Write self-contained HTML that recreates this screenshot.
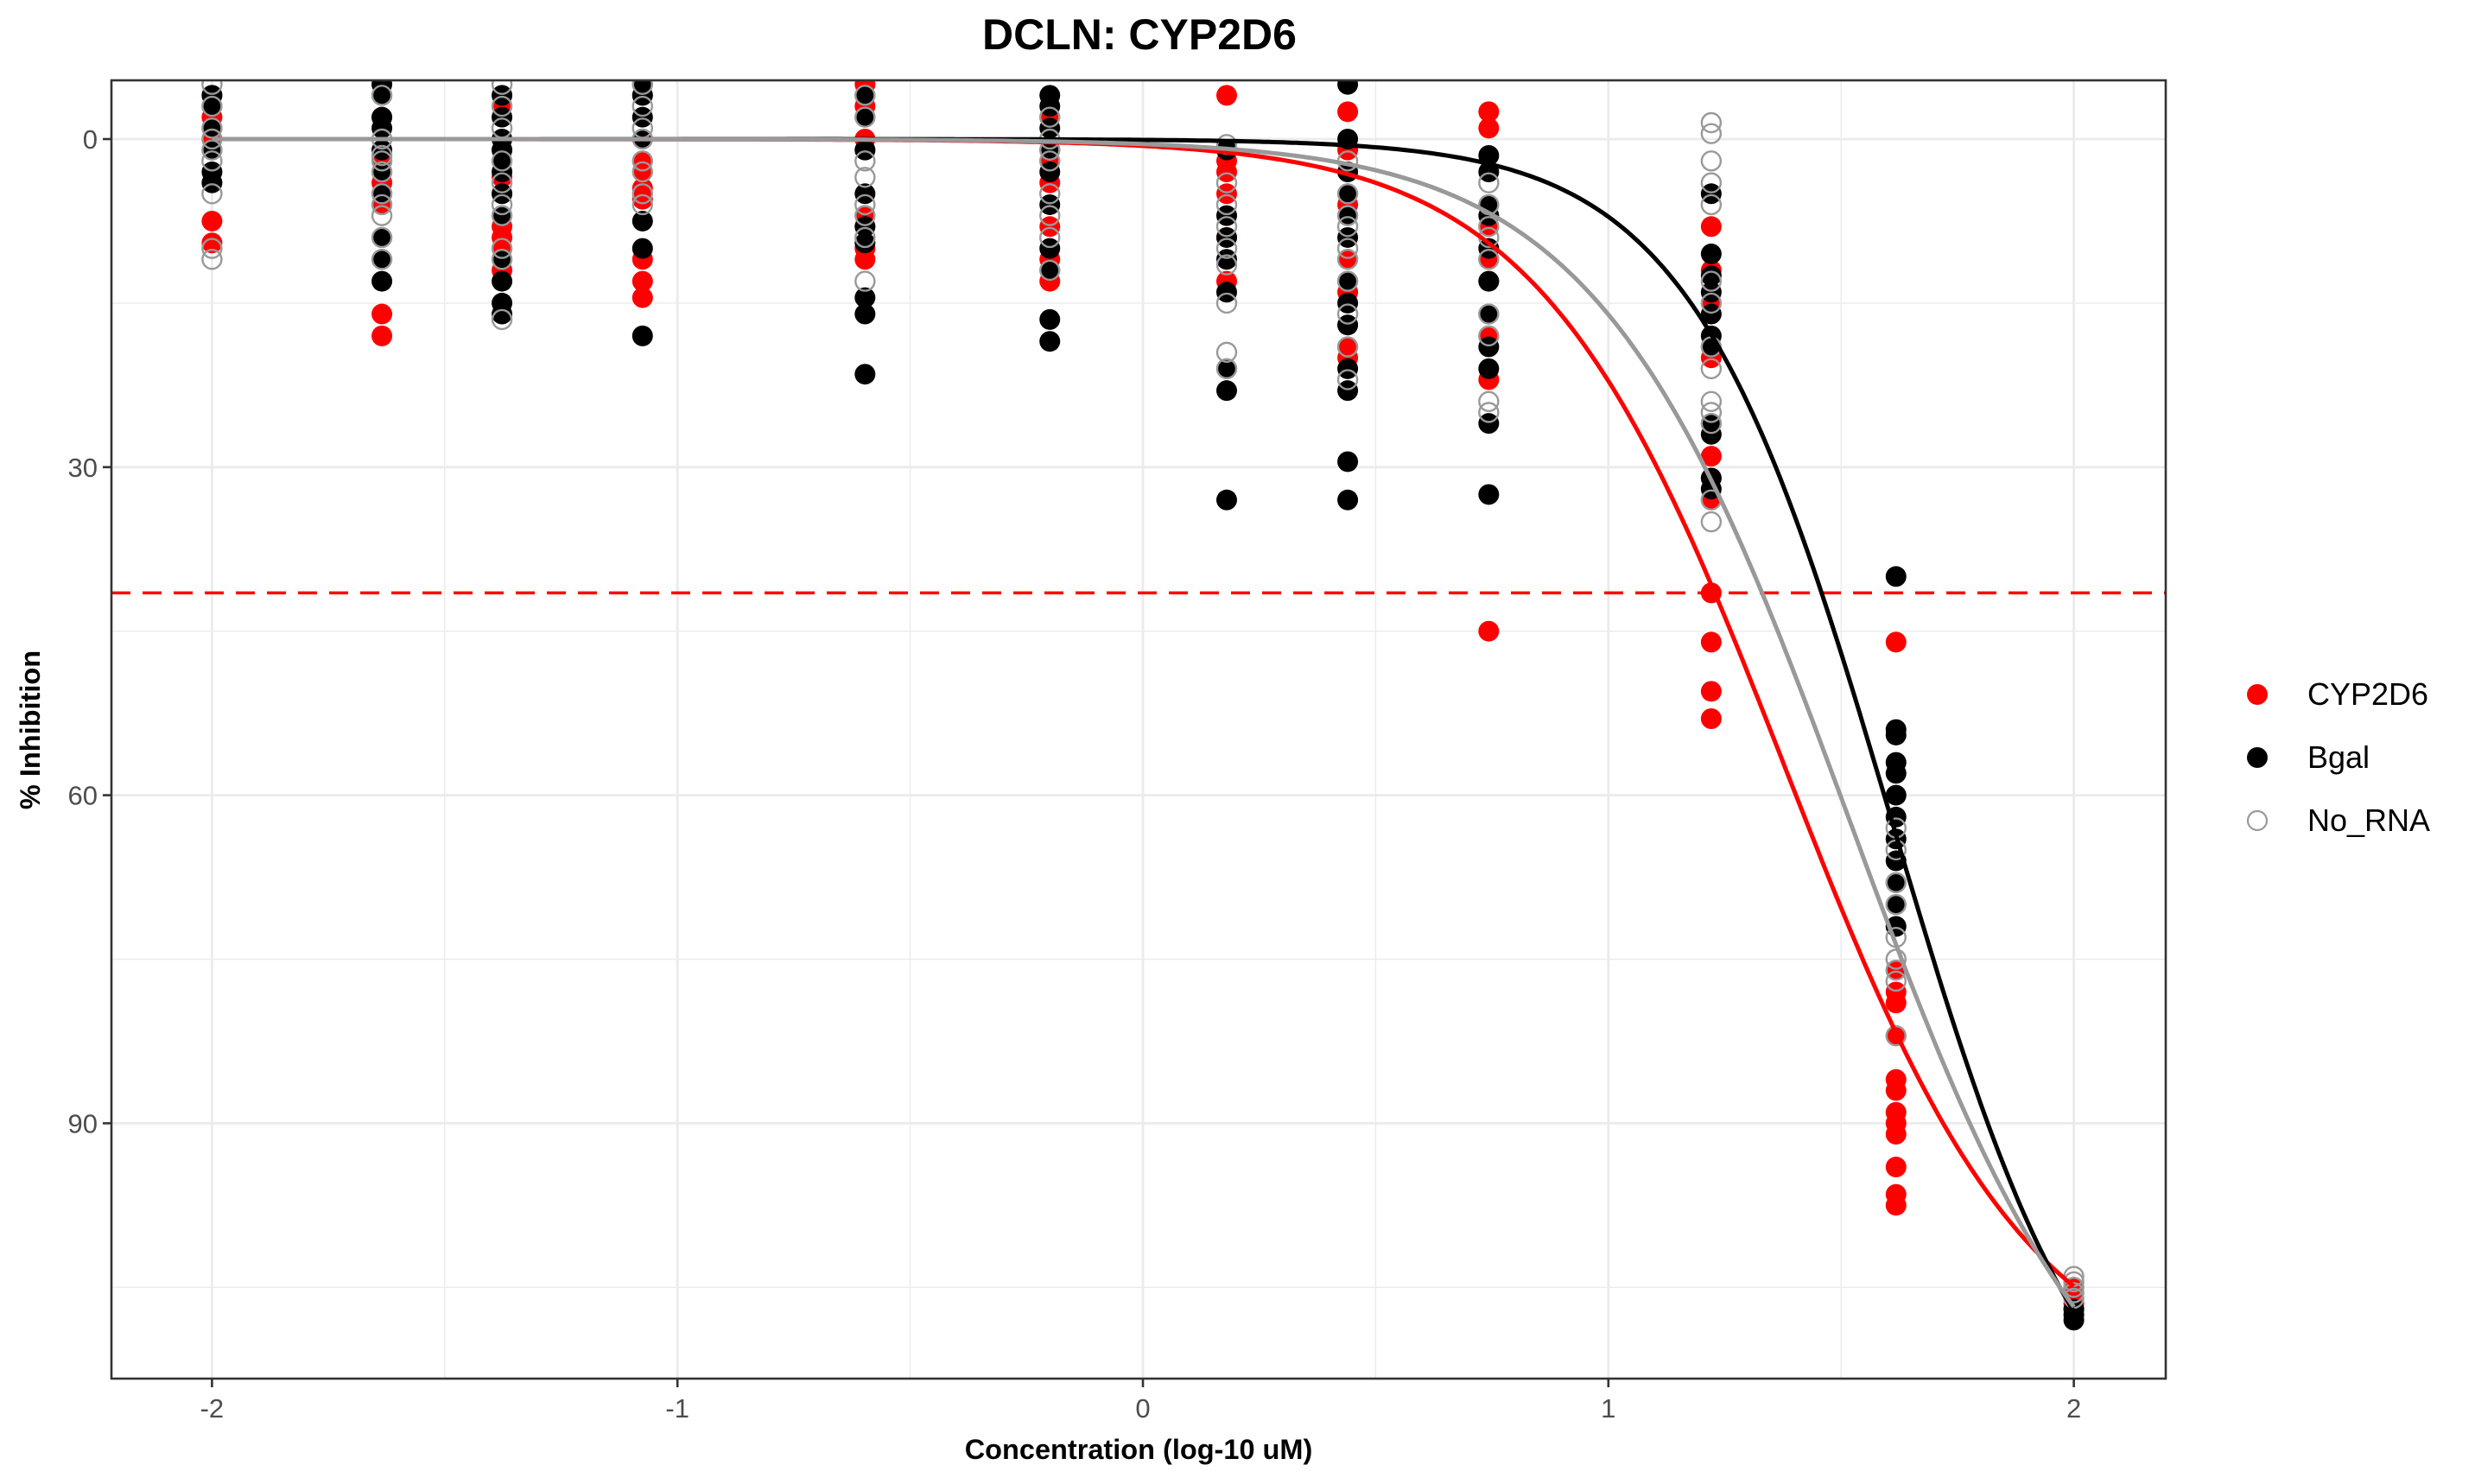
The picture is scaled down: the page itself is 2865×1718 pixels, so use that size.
<!DOCTYPE html>
<html><head><meta charset="utf-8"><style>
html,body{margin:0;padding:0;background:#fff}
svg{display:block}
text{font-family:"Liberation Sans",Arial,sans-serif}
</style></head><body>
<svg id="chart" width="2865" height="1718" viewBox="0 0 2865 1718" xmlns="http://www.w3.org/2000/svg">
<rect x="0" y="0" width="2865" height="1718" fill="#fff"/>
<text x="1319" y="57" font-size="50" font-weight="bold" text-anchor="middle" fill="#000">DCLN: CYP2D6</text>
<g id="grid"></g>
<g id="marks"></g>
<rect x="129" y="93" width="2378" height="1503" fill="none" stroke="#333" stroke-width="2.6"/>
<g id="axes"></g>
<text x="1318" y="1689" font-size="32.5" font-weight="bold" text-anchor="middle" fill="#000">Concentration (log-10 uM)</text>
<text transform="translate(46,845) rotate(-90)" font-size="32.5" font-weight="bold" text-anchor="middle" fill="#000">% Inhibition</text>
<g id="legend"></g>
</svg>
<script>
const conc = [-2,-1.635,-1.377,-1.075,-0.597,-0.2,0.18,0.44,0.743,1.221,1.618,2];
const redVals = [
[-4,-2,0,7.5,9.5],
[-4,-2,2,3,4,5,6,16,18],
[-3,1,3.5,5,8,9,10,12],
[-4,2,3,4.5,5.5,11,13,14.5],
[-5,-3,0,1,7,8,10,11],
[-2,1,2,4,8,11,13],
[-4,2,3,5,9,13],
[-2.5,1,6,11,14,17,19,20],
[-2.5,-1,8,11,13,18,22,45],
[8,12,15,20,29,31,33,41.5,46,50.5,53],
[46,76,78,79,82,86,87,89,90,91,94,96.5,97.5],
[105,105.5,106,106.5,107]];
const blackVals = [
[-4,-3,-1,1,3,4],
[-5,-4,-2,-1,1,3,5,9,11,13],
[-4,-2,0,1,2,3,5,7,11,13,15,16],
[-5,-4,-2,0,7.5,10,18],
[-4,-2,1,5,8,9.5,14.5,16,21.5],
[-4,-3,-1,1,3,6,10,12,16.5,18.5],
[1,7,9,11,14,21,23,33],
[-5,0,3,5,7,9,13,15,17,21,23,29.5,33],
[1.5,3,6,7,10,13,16,19,21,26,32.5],
[5,10.5,12.5,14,16,18,19,26,27,31,32],
[40,54,54.5,57,58,60,62,64,66,68,70,72],
[107,107.5,108]];
const grayVals = [
[-5,-3,-1,0,1,2,5,10,11],
[-4,0,1.5,2,3,5,6,7,9,11],
[-5,-3,-1,2,4,6,7,10,11,16.5],
[-5,-3,-1,0,2,3,5,6],
[-4,-2,2,3.5,6,7,9,13],
[-2,0,1,2,5,7,9,12],
[0.5,4,6,8,10,11.5,15,19.5,21],
[2,5,7,8,10,11,13,16,19,22],
[4,6,8,9,11,16,18,24,25],
[-1.5,-0.5,2,4,6,13,15,19,21,24,25,26,33,35],
[63,65,68,70,73,75,76,77,82],
[104,104.5,105,105.5,106]];
// logistic fit params: [top, log IC50, hill]
const redFit = [115,1.38,1.64];
const blackFit = [125,1.61,2.0];
const grayFit = [125,1.52,1.6];
const threshold = 41.5;
const xTicks = [-2,-1,0,1,2];
const xMinor = [-1.5,-0.5,0.5,1.5];
const yTicks = [0,30,60,90];
const yMinor = [15,45,75,105];
const legendLabels = ["CYP2D6","Bgal","No_RNA"];

const NS="http://www.w3.org/2000/svg";
const L=129,R=2507,T=93,B=1596;
function sx(v){return 1323+v*538.8;}
function sy(v){return 161+v*12.66;}
function mk(tag,attrs,parent){const e=document.createElementNS(NS,tag);for(const k in attrs)e.setAttribute(k,attrs[k]);parent.appendChild(e);return e;}
const grid=document.getElementById('grid'),marks=document.getElementById('marks'),axes=document.getElementById('axes'),legend=document.getElementById('legend');
mk('rect',{x:L,y:T,width:R-L,height:B-T,fill:'#fff'},grid);
xMinor.forEach(v=>{const e=mk('line',{x1:sx(v),x2:sx(v),y1:T,y2:B,stroke:'#ebebeb','stroke-width':1.4},grid);

});
yMinor.forEach(v=>{const e=mk('line',{x1:L,x2:R,y1:sy(v),y2:sy(v),stroke:'#ebebeb','stroke-width':1.4},grid);

});
xTicks.forEach(v=>{const e=mk('line',{x1:sx(v),x2:sx(v),y1:T,y2:B,stroke:'#ebebeb','stroke-width':2.8},grid);


const t=mk('line',{x1:sx(v),x2:sx(v),y1:B,y2:B+10,stroke:'#333','stroke-width':2.6},axes);


const l=mk('text',{x:sx(v),y:B+45,'font-size':31,'text-anchor':'middle',fill:'#4d4d4d'},axes);l.textContent=v;

});
yTicks.forEach(v=>{const e=mk('line',{x1:L,x2:R,y1:sy(v),y2:sy(v),stroke:'#ebebeb','stroke-width':2.8},grid);


const t=mk('line',{x1:L-10,x2:L,y1:sy(v),y2:sy(v),stroke:'#333','stroke-width':2.6},axes);


const l=mk('text',{x:L-16,y:sy(v)+11,'font-size':31,'text-anchor':'end',fill:'#4d4d4d'},axes);l.textContent=v;

});

const clip=mk('clipPath',{id:'pc'},marks);mk('rect',{x:L,y:T,width:R-L,height:B-T},clip);
const plot=mk('g',{'clip-path':'url(#pc)'},marks);
function fit(p,x){return p[0]/(1+Math.pow(10,p[2]*(p[1]-x)));}
function curve(p,color,name){let d='';for(let i=0;i<=400;i++){const x=-2+4*i/400;d+=(i?'L':'M')+sx(x).toFixed(1)+','+sy(fit(p,x)).toFixed(1);}
const e=mk('path',{d:d,fill:'none',stroke:color,'stroke-width':5},plot);

}
function pts(vals,fill,stroke,sw,name){vals.forEach((col,i)=>col.forEach(v=>{const c=mk('circle',{cx:sx(conc[i]),cy:sy(v),r:sw?11:12,fill:fill,stroke:stroke,'stroke-width':sw},plot);

}));}
pts(redVals,'#ff0000','none',0,'cyp2d6-point');
pts(blackVals,'#000','none',0,'bgal-point');
pts(grayVals,'none','#999999',2.4,'no-rna-point');
const th=mk('line',{x1:L,x2:R,y1:sy(threshold),y2:sy(threshold),stroke:'#ff0000','stroke-width':3.5,'stroke-dasharray':'22,14'},plot);


curve(redFit,'#ff0000','cyp2d6-fit-curve');
curve(blackFit,'#000','bgal-fit-curve');
curve(grayFit,'#999999','no-rna-fit-curve');

const lc=[['#ff0000','none',0],['#000','none',0],['none','#999999',2.2]];
legendLabels.forEach((lab,i)=>{const y=804+i*73;
const g=mk('g',{},legend);


mk('circle',{cx:2613,cy:y,r:lc[i][2]?11:12,fill:lc[i][0],stroke:lc[i][1],'stroke-width':lc[i][2]},g);
const t=mk('text',{x:2671,y:y+12,'font-size':36,fill:'#000'},g);t.textContent=lab;});
</script>
</body></html>
